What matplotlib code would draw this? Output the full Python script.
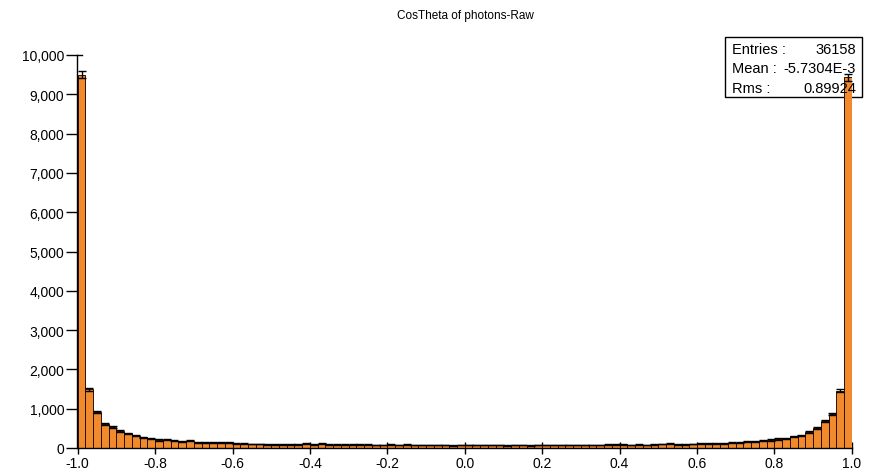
import numpy as np
import matplotlib
matplotlib.use("Agg")
import matplotlib.pyplot as plt
from matplotlib.ticker import FuncFormatter
from matplotlib.patches import Rectangle

plt.rcParams['font.family'] = ['Liberation Sans', 'DejaVu Sans']

title = "CosTheta of photons-Raw"
x_min, x_max, n_bins = -1.0, 1.0, 100
counts = [
    9500, 1500, 920, 610, 540, 440, 375, 315, 270, 235,
    205, 215, 185, 175, 190, 150, 150, 145, 145, 140,
    105, 105, 100, 100, 95, 95, 90, 95, 90, 105,
    95, 110, 85, 85, 85, 85, 85, 85, 80, 80,
    85, 80, 85, 80, 75, 80, 80, 75, 70, 80,
    80, 80, 75, 75, 80, 70, 75, 75, 70, 75,
    75, 80, 75, 80, 80, 80, 80, 80, 85, 90,
    95, 80, 85, 80, 85, 100, 105, 90, 95, 100,
    110, 120, 120, 120, 135, 135, 155, 170, 185, 205,
    230, 250, 300, 325, 400, 510, 680, 865, 1460, 9430,
]
stats_labels = ["Entries :", "Mean :", "Rms :"]
stats_values = ["36158", "-5.7304E-3", "0.89924"]
x_ticks = [-1.0, -0.8, -0.6, -0.4, -0.2, 0.0, 0.2, 0.4, 0.6, 0.8, 1.0]
y_ticks = [0, 1000, 2000, 3000, 4000, 5000, 6000, 7000, 8000, 9000, 10000]

W, H = 878, 477
fig = plt.figure(figsize=(W / 100, H / 100), dpi=100)
ax = fig.add_axes([77.5 / W, 1 - 449 / H, (852 - 77.5) / W, (449 - 56) / H])

edges = np.linspace(x_min, x_max, n_bins + 1)
counts_arr = np.array(counts, dtype=float)
bw = edges[1] - edges[0]
ax.bar(edges[:-1], counts_arr, width=bw, align='edge', color='#F08A2C',
       edgecolor='#2a1200', linewidth=0.7, zorder=2)
centers = edges[:-1] + bw / 2
ax.errorbar(centers, counts_arr, yerr=np.sqrt(counts_arr), fmt='none',
            ecolor='black', elinewidth=1.0, capsize=2.6, capthick=1.0, zorder=3)

ax.set_xlim(x_min - 0.0005, x_max + 0.0005)
ax.set_ylim(0, 10000)
ax.set_xticks(x_ticks)
ax.set_xticklabels([f"{t:.1f}" for t in x_ticks])
ax.set_yticks(y_ticks)
ax.yaxis.set_major_formatter(FuncFormatter(lambda v, p: f"{int(v):,}"))
for s in ['top', 'right']:
    ax.spines[s].set_visible(False)
for s in ['left', 'bottom']:
    ax.spines[s].set_linewidth(1.0)
    ax.spines[s].set_color('black')
ax.tick_params(axis='x', direction='inout', length=9, width=1.0, labelsize=10, pad=1)
ax.tick_params(axis='y', direction='out', length=8, width=1.0, labelsize=10, pad=1.5)
# inward stub of the top y tick
ax.plot([0, 0.006], [1, 1], transform=ax.transAxes, color='black', lw=1.0,
        clip_on=False, zorder=4)

fig.text(465 / W, 1 - 16 / H, title, ha='center', va='center', fontsize=8.5)

# stats box (drawn beneath the bars, text above)
bx0, by0, bx1, by1 = 725, 38, 862, 98
ax.add_patch(Rectangle((bx0 / W, 1 - by1 / H), (bx1 - bx0) / W, (by1 - by0) / H,
                       transform=fig.transFigure, facecolor='white',
                       edgecolor='black', linewidth=1.0, zorder=1.5, clip_on=False))
for i, (lab, val) in enumerate(zip(stats_labels, stats_values)):
    yy = 1 - (50 + i * 19.3) / H
    ax.text(732 / W, yy, lab, transform=fig.transFigure, ha='left', va='center',
            fontsize=10.5, zorder=6)
    ax.text(856 / W, yy, val, transform=fig.transFigure, ha='right', va='center',
            fontsize=10.5, zorder=6)

fig.savefig("out.png", dpi=100)
